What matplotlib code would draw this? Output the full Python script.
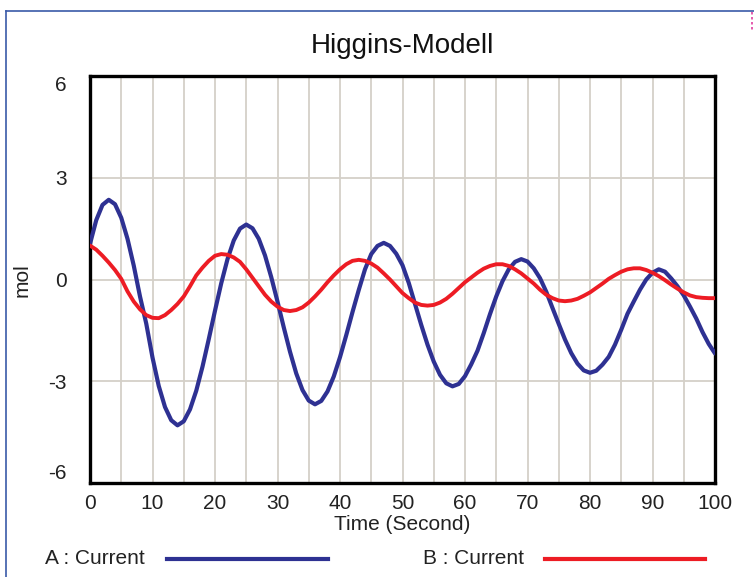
import matplotlib
matplotlib.use("Agg")
import matplotlib.pyplot as plt
from matplotlib.lines import Line2D
import numpy as np

plt.rcParams['font.family'] = ['Liberation Sans', 'DejaVu Sans']
plt.rcParams['axes.unicode_minus'] = False

# time axis (seconds), one sample per second
time = list(range(0, 101))

# A : Current
a_current = [1.05, 1.75, 2.2, 2.35, 2.22, 1.82, 1.2, 0.41, -0.5, -1.3,
             -2.3, -3.14, -3.76, -4.15, -4.3, -4.18, -3.83, -3.28, -2.57, -1.76,
             -0.92, -0.11, 0.6, 1.15, 1.5, 1.62, 1.51, 1.2, 0.71, 0.07,
             -0.65, -1.41, -2.13, -2.77, -3.26, -3.57, -3.68, -3.58, -3.3, -2.86,
             -2.29, -1.64, -0.96, -0.31, 0.3, 0.75, 0.99, 1.08, 0.99, 0.76,
             0.42, -0.1, -0.72, -1.34, -1.92, -2.42, -2.81, -3.06, -3.15, -3.08,
             -2.85, -2.5, -2.1, -1.58, -1.02, -0.5, -0.05, 0.3, 0.52, 0.6,
             0.53, 0.33, 0.04, -0.36, -0.84, -1.31, -1.77, -2.17, -2.48, -2.68,
             -2.75, -2.69, -2.51, -2.28, -1.92, -1.48, -1.01, -0.65, -0.3, 0.0,
             0.2, 0.3, 0.23, 0.03, -0.2, -0.47, -0.8, -1.15, -1.55, -1.9,
             -2.18]

# B : Current
b_current = [1.0, 0.88, 0.7, 0.5, 0.28, 0.02, -0.35, -0.65, -0.88, -1.05,
             -1.13, -1.14, -1.05, -0.9, -0.72, -0.5, -0.2, 0.12, 0.35, 0.55,
             0.7, 0.75, 0.73, 0.65, 0.52, 0.3, 0.05, -0.2, -0.45, -0.65,
             -0.8, -0.9, -0.93, -0.9, -0.82, -0.68, -0.5, -0.3, -0.08, 0.12,
             0.3, 0.45, 0.55, 0.58, 0.55, 0.47, 0.35, 0.18, 0.0, -0.2,
             -0.4, -0.55, -0.68, -0.75, -0.77, -0.75, -0.68, -0.57, -0.42, -0.25,
             -0.08, 0.06, 0.2, 0.32, 0.4, 0.45, 0.45, 0.4, 0.3, 0.18,
             0.03, -0.12, -0.3, -0.45, -0.55, -0.62, -0.64, -0.62, -0.57, -0.48,
             -0.38, -0.25, -0.12, 0.02, 0.13, 0.23, 0.3, 0.33, 0.33, 0.28,
             0.2, 0.1, -0.02, -0.15, -0.27, -0.38, -0.47, -0.52, -0.54, -0.55,
             -0.55]

x_ticks = [0, 10, 20, 30, 40, 50, 60, 70, 80, 90, 100]
y_ticks = [-6, -3, 0, 3, 6]

BLUE = '#2e3192'
RED = '#ed1c24'
GRID = '#d4d0c8'

W, H = 754, 577
fig = plt.figure(figsize=(W / 100, H / 100), dpi=100)
ax = fig.add_axes([90 / W, 1 - 483 / H, (715 - 90) / W, (483 - 76) / H])

ax.plot(time, a_current, color=BLUE, lw=3.0, solid_capstyle='round', zorder=3)
ax.plot(time, b_current, color=RED, lw=2.8, solid_capstyle='round', zorder=3)

ax.set_xlim(0, 100)
ax.set_ylim(-6, 6)
ax.set_xticks(x_ticks)
ax.set_xticks(np.arange(0, 101, 5), minor=True)
ax.set_yticks(y_ticks)
ax.grid(True, which='both', axis='x', color=GRID, lw=1.3, zorder=0)
ax.grid(True, which='major', axis='y', color=GRID, lw=1.3, zorder=0)
ax.tick_params(which='both', length=0, labelsize=15, colors='#222222')
ax.tick_params(axis='y', pad=17)
ax.tick_params(axis='x', pad=8)
for s in ax.spines.values():
    s.set_linewidth(2.4)
    s.set_color('black')
ax.set_axisbelow(True)

# end labels sit slightly inside the axis range, as in the original
ylabels = ax.get_yticklabels()
ylabels[0].set_va('bottom')
ylabels[-1].set_va('top')

ax.set_xlabel('Time (Second)', fontsize=15, labelpad=1, color='#222222')
fig.text(22 / W, 1 - 280 / H, 'mol', rotation=90, fontsize=15,
         ha='center', va='center', color='#222222')
fig.text((90 + 715) / 2 / W, 1 - 46 / H, 'Higgins-Modell', fontsize=20,
         ha='center', va='center', color='#111111')

# legend row
fig.text(45 / W, 1 - 559 / H, 'A : Current', fontsize=15, ha='left',
         va='center', color='#222222')
fig.add_artist(Line2D([167 / W, 328 / W], [1 - 559 / H, 1 - 559 / H],
                      color=BLUE, lw=3.0, transform=fig.transFigure))
fig.text(423 / W, 1 - 559 / H, 'B : Current', fontsize=15, ha='left',
         va='center', color='#222222')
fig.add_artist(Line2D([545 / W, 705 / W], [1 - 559 / H, 1 - 559 / H],
                      color=RED, lw=3.0, transform=fig.transFigure))

# window border
fig.add_artist(Line2D([5.5 / W, 5.5 / W], [0, 1 - 10.5 / H], color='#3a5aa8',
                      lw=1.2, transform=fig.transFigure))
fig.add_artist(Line2D([5.5 / W, 1], [1 - 10.5 / H, 1 - 10.5 / H], color='#3a5aa8',
                      lw=1.2, transform=fig.transFigure))
fig.add_artist(Line2D([752 / W, 752 / W], [1 - 12 / H, 1 - 31 / H], color='#e040a0',
                      lw=1.2, ls=(0, (1.5, 1.5)), transform=fig.transFigure))

fig.savefig('out.png', dpi=100)
